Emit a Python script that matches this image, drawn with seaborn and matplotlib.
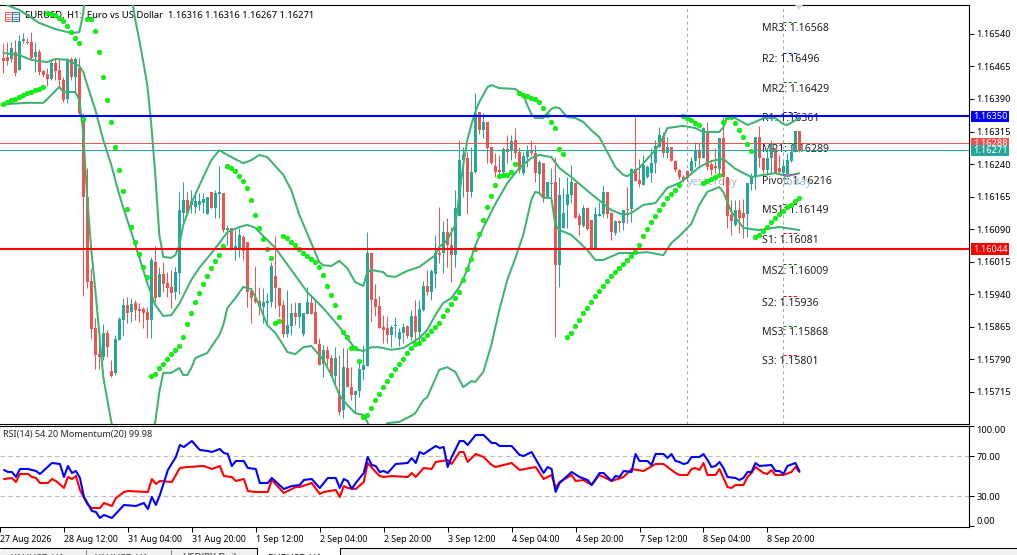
import numpy as np
import matplotlib
matplotlib.use("Agg")
import matplotlib.pyplot as plt
import matplotlib.transforms as mtransforms
from matplotlib.patches import Rectangle
import seaborn as sns

# Prices are stored as points above 1.15000 (1 point = 0.00001)
BASE = 1.15
opens = [1484,1487,1482,1498,1457,1524,1521,1521,1487,1498,
1454,1447,1436,1473,1457,1434,1390,1482,1441,1461,
1353,1164,970,862,802,795,851,763,759,835,
881,915,899,920,906,906,899,881,1014,934,
987,966,957,945,989,1127,1157,1146,1141,1146,
1150,1125,1176,1139,1171,1173,1088,1093,1047,1047,
1072,1060,948,931,924,911,920,922,982,954,
915,848,867,897,888,848,895,920,899,825,
779,812,793,752,708,673,770,726,708,717,
765,775,1035,929,913,865,862,846,867,837,
851,867,842,890,853,904,959,945,987,1035,
1035,1083,1054,1030,1120,1249,1254,1176,1222,1360,
1318,1337,1279,1235,1226,1222,1275,1270,1295,1268,
1219,1256,1270,1265,1217,1242,1164,1195,1199,1007,
1093,1146,1169,1196,1120,1097,1139,1111,1047,1120,
1125,1176,1127,1081,1109,1104,1136,1136,1229,1203,
1192,1210,1219,1242,1279,1305,1265,1279,1247,1226,
1210,1224,1224,1247,1270,1254,1314,1240,1235,1229,
1300,1210,1123,1100,1134,1127,1125,1194,1210,1302,
1254,1226,1254,1277,1231,1219,1217,1247,1268,1316]
closes = [1477,1477,1507,1450,1524,1528,1519,1484,1498,1452,
1445,1436,1473,1454,1434,1388,1482,1441,1482,1358,
1164,968,860,800,795,851,818,752,837,883,
915,897,918,904,901,897,881,1019,931,987,
964,954,943,991,1134,1157,1127,1155,1155,1155,
1160,1164,1139,1173,1176,1088,1093,1047,1051,1077,
1040,945,931,922,911,922,924,1005,954,913,
848,869,897,888,920,897,922,895,825,777,
812,791,752,793,669,772,726,708,717,768,
777,1035,927,911,862,858,846,865,869,853,
865,844,890,853,906,959,945,994,1035,1030,
1083,1054,1030,1139,1249,1263,1176,1222,1358,1318,
1337,1277,1242,1222,1222,1275,1268,1293,1265,1226,
1259,1272,1265,1219,1245,1164,1199,1196,1007,1169,
1127,1171,1199,1116,1100,1139,1090,1047,1125,1125,
1176,1125,1083,1109,1104,1134,1134,1229,1201,1194,
1238,1233,1242,1282,1307,1265,1279,1247,1226,1210,
1203,1208,1247,1270,1254,1323,1233,1226,1231,1300,
1210,1120,1109,1134,1116,1116,1196,1212,1302,1254,
1226,1254,1277,1219,1222,1235,1249,1268,1316,1271]
highs = [1519,1521,1521,1526,1537,1542,1530,1544,1521,1505,
1457,1461,1482,1484,1484,1441,1484,1487,1487,1484,
1358,1231,1000,885,851,871,858,789,846,888,
931,934,931,927,920,911,911,1026,1051,1003,
1014,991,996,1003,1176,1199,1176,1180,1176,1173,
1173,1164,1176,1180,1236,1173,1100,1093,1088,1093,
1077,1060,954,1005,957,954,943,1014,1074,957,
927,950,920,922,920,897,957,938,927,839,
823,821,800,818,800,816,816,772,719,788,
823,1083,1035,964,936,892,890,869,888,862,
874,869,904,927,927,971,996,998,1077,1141,
1109,1116,1095,1180,1295,1279,1268,1279,1404,1360,
1358,1337,1279,1265,1261,1279,1307,1307,1323,1279,
1268,1284,1295,1284,1249,1242,1199,1231,1256,1210,
1185,1210,1238,1196,1127,1146,1141,1111,1141,1153,
1192,1176,1130,1111,1111,1134,1187,1231,1348,1252,
1261,1238,1277,1295,1325,1314,1302,1279,1249,1229,
1215,1226,1256,1291,1291,1325,1337,1245,1277,1300,
1348,1210,1157,1157,1157,1160,1196,1219,1302,1328,
1256,1277,1295,1277,1261,1249,1265,1284,1316,1316]
lows = [1450,1468,1475,1443,1457,1519,1517,1482,1452,1445,
1441,1420,1434,1434,1415,1383,1381,1434,1404,1353,
936,954,837,768,768,789,795,749,754,835,
846,874,876,881,876,862,839,839,922,934,
945,934,908,929,941,1106,1127,1127,1127,1134,
1127,1125,1139,1116,1116,1083,1054,1042,1019,1026,
1019,911,874,920,892,874,876,911,908,888,
842,842,846,869,865,844,895,895,825,777,
749,777,752,731,662,655,726,696,666,703,
742,775,876,890,862,828,828,818,842,821,
828,839,835,830,830,901,938,927,954,1012,
989,1003,968,1003,1120,1164,1125,1164,1219,1309,
1300,1242,1240,1210,1210,1212,1242,1249,1254,1219,
1215,1233,1261,1199,1173,1153,1164,1164,842,957,
1093,1093,1150,1116,1077,1095,1088,1047,1047,1120,
1118,1116,1065,1077,1083,1088,1104,1106,1201,1187,
1192,1208,1199,1219,1279,1256,1254,1247,1222,1206,
1199,1201,1219,1233,1238,1254,1226,1215,1219,1210,
1192,1093,1077,1097,1081,1070,1072,1180,1180,1233,
1219,1215,1219,1219,1219,1215,1215,1245,1268,1267]

sar_pts = [1378,1383,1388,1390,1395,1399,1404,1406,1411,1413,1418,
1588,1586,1583,1577,1570,1558,1544,1530,1519,1344,
1574,1574,1547,1498,1441,1388,1337,1279,1226,1178,1136,1095,1060,1033,1003,980,
752,756,770,779,791,802,812,821,842,871,897,922,943,964,982,1001,1017,1030,1051,
1236,1231,1224,1212,1201,1185,1157,1123,1093,1067,1044,1023,874,878,
1074,1070,1060,1054,1044,1035,1028,1021,1014,1003,984,959,938,915,888,
853,842,816,816,786,
657,662,678,696,710,726,740,754,768,779,791,805,816,825,828,
837,846,855,865,874,890,904,918,931,945,973,998,1021,1044,1079,
1111,1141,1166,1192,1212,1215,1215,1222,1240,
1404,1399,1397,1392,1390,1383,1369,1353,1337,1323,1275,1263,
842,851,867,881,897,908,922,936,948,959,971,982,991,1001,1010,
1019,1028,1037,1054,1074,1090,1106,1120,1134,1148,1162,1171,1180,1192,
1351,1346,1341,1335,1330,1196,1201,1206,1210,1215,
1337,1348,1348,1335,1318,1302,1286,1270,
1072,1077,1086,1095,1106,1116,1125,1132,1141,1146,1155,1162]

# Bollinger bands, read at selected bars: (bar, points)
bb_upper = [(1,1606),(4,1595),(9,1565),(13,1551),(17,1542),(19,1544),(20,1588),(21,1687),(25,1756),(27,1756),
(32,1630),(33,1572),(34,1526),(35,1475),(36,1422),(37,1330),(38,1215),(39,1077),(40,1026),(42,1024),(43,1030),
(44,1053),(45,1100),(47,1150),(50,1210),(52,1249),(54,1272),(56,1261),(60,1242),(62,1249),(64,1261),(66,1256),
(70,1215),(72,1180),(74,1123),(77,1058),(79,1014),(80,1007),(82,1005),(84,1017),(86,1000),(88,968),(90,959),
(91,991),(92,996),(95,991),(96,982),(98,980),(101,994),(104,1003),(108,1030),(109,1049),(111,1065),(113,1100),
(114,1169),(115,1238),(116,1295),(117,1330),(118,1360),(119,1383),(120,1399),(121,1417),(122,1422),(124,1415),
(128,1413),(130,1399),(131,1376),(132,1355),(133,1346),(135,1346),(137,1367),(138,1371),(139,1369),(141,1348),
(143,1346),(145,1337),(147,1318),(149,1302),(151,1268),(153,1233),(155,1215),(156,1212),(159,1231),(160,1242),
(163,1272),(165,1302),(166,1323),(170,1328),(173,1323),(175,1314),(179,1314),(180,1325),(181,1348),(183,1346),
(186,1330),(188,1337),(190,1346),(193,1346),(195,1332),(196,1330),(199,1346)]
bb_middle = [(0,1496),(4,1491),(7,1480),(11,1475),(13,1482),(16,1480),(19,1466),(20,1452),(21,1422),(23,1365),
(25,1295),(27,1238),(29,1169),(31,1111),(33,1054),(36,966),(38,915),(40,890),(42,892),(44,918),(47,973),(49,1001),
(51,1023),(54,1058),(56,1083),(59,1095),(61,1100),(63,1093),(65,1074),(68,1047),(72,996),(76,945),(80,908),
(84,865),(86,839),(88,814),(90,809),(92,818),(94,818),(97,812),(100,816),(104,839),(106,858),(108,892),(110,920),
(112,931),(114,957),(116,996),(118,1053),(120,1093),(123,1148),(126,1196),(129,1231),(132,1254),(134,1261),
(137,1256),(139,1231),(142,1210),(147,1171),(152,1134),(155,1123),(157,1127),(160,1146),(163,1150),(166,1185),
(169,1196),(171,1210),(174,1233),(177,1247),(180,1252),(183,1229),(187,1210),(190,1215),(193,1219),(196,1212),(199,1219)]
bb_lower = [(0,1378),(6,1381),(10,1381),(12,1399),(14,1418),(15,1406),(18,1406),(19,1388),(20,1312),(21,1157),
(22,1042),(23,950),(25,749),(27,646),(28,604),(33,535),(38,646),(39,715),(40,759),(42,759),(44,770),(45,754),
(46,754),(47,770),(48,793),(51,805),(54,846),(55,869),(56,908),(58,931),(60,957),(62,952),(64,915),(66,869),
(68,851),(70,823),(71,807),(73,802),(75,818),(77,821),(80,789),(82,754),(84,708),(86,685),(88,666),(90,662),
(91,646),(93,604),(96,643),(99,646),(102,660),(103,666),(105,696),(106,703),(109,766),(111,772),(113,761),
(115,726),(117,740),(118,738),(120,761),(122,823),(124,904),(126,973),(128,1023),(130,1077),(132,1157),(133,1176),
(134,1173),(135,1162),(137,1162),(138,1100),(139,1088),(142,1077),(146,1042),(148,1019),(150,1019),(154,1035),
(158,1035),(161,1037),(165,1030),(167,1058),(169,1074),(172,1102),(174,1146),(176,1176),(179,1187),(180,1176),
(182,1130),(185,1093),(187,1090),(189,1088),(194,1095),(199,1088)]

rsi_line = [(0,47),(2,48),(3,44),(4,52),(6,52),(7,49),(8,48),(9,43),(11,43),(12,47),(13,45),(15,38),(16,49),(17,47),
(18,50),(19,36),(21,21),(22,18),(24,18),(25,23),(27,20),(28,28),(30,34),(31,35),(36,34),(37,47),(38,42),(39,45),
(42,44),(44,58),(46,59),(50,60),(52,57),(54,60),(55,50),(57,49),(58,45),(60,47),(61,35),(63,34),(66,34),(67,46),
(70,33),(73,39),(74,39),(77,43),(79,32),(80,34),(83,36),(84,29),(85,40),(86,38),(88,37),(90,44),(91,63),(93,54),
(94,50),(95,49),(97,50),(101,49),(102,53),(103,49),(105,58),(107,57),(108,64),(111,66),(112,62),(114,74),(115,74),
(116,64),(118,72),(120,69),(122,61),(123,59),(127,63),(129,56),(133,59),(135,47),(137,51),(138,38),(139,44),(142,51),
(143,45),(145,46),(147,41),(149,51),(152,45),(155,49),(157,57),(160,55),(163,62),(165,62),(168,53),(169,51),(171,51),
(172,57),(173,58),(174,56),(175,63),(176,51),(178,51),(179,57),(180,48),(181,39),(182,38),(183,41),(185,41),(186,49),
(187,53),(188,59),(190,53),(191,52),(192,56),(193,51),(195,51),(197,54),(198,59),(199,54)]
# Momentum drawn on the panel's own scale, as in the terminal overlay
momentum_line = [(0,56),(1,54),(2,54),(3,49),(4,57),(6,57),(8,55),(9,52),(12,63),(14,62),(15,49),(16,60),(17,53),(18,55),
(19,48),(20,29),(22,15),(23,14),(24,8),(25,11),(27,8),(30,21),(33,20),(35,23),(36,17),(37,29),(38,21),(39,31),(41,56),
(43,69),(44,81),(45,79),(47,85),(49,76),(51,75),(52,74),(54,77),(55,73),(56,72),(57,60),(58,65),(60,65),(61,58),(63,57),
(64,43),(66,43),(67,48),(70,37),(72,40),(74,41),(75,46),(77,47),(79,38),(81,48),(83,48),(84,38),(85,47),(86,45),(87,37),
(88,43),(90,53),(91,69),(92,61),(93,60),(94,54),(95,55),(96,53),(98,62),(101,63),(102,68),(103,63),(104,74),(105,72),
(108,80),(109,78),(110,79),(111,59),(112,69),(114,85),(115,85),(116,81),(118,91),(120,91),(122,83),(123,83),(124,80),
(127,80),(129,71),(130,70),(132,74),(135,53),(136,59),(137,57),(138,34),(139,43),(142,54),(144,49),(146,46),(147,41),
(149,53),(150,53),(152,45),(153,50),(154,49),(155,55),(157,54),(158,72),(159,65),(161,65),(162,61),(163,72),(165,72),
(166,68),(167,72),(168,65),(169,64),(170,62),(171,63),(172,69),(174,69),(175,72),(176,66),(177,59),(178,60),(179,64),
(180,58),(181,49),(183,48),(184,46),(185,48),(186,54),(187,54),(188,63),(189,60),(192,61),(193,55),(194,55),(195,52),
(196,60),(198,63),(199,55)]

blue_level = 1350
red_level = 1044
bid_level = 1271
ask_level = 1288
pivot_names = ["MR3","R2","MR2","R1","MR1","Pivot","MS1","S1","MS2","S2","MS3","S3"]
pivot_values = [1568,1496,1429,1361,1289,1216,1149,1081,1009,936,868,801]
price_ticks = [1540,1465,1390,1315,1240,1165,1090,1015,940,865,790,715]
panel_ticks = [100,70,30,0]
date_tick_bars = [-1,15,31,47,63,79,95,111,127,143,159,175,191]
date_labels = ["27 Aug 2026","28 Aug 12:00","31 Aug 04:00","31 Aug 20:00","1 Sep 12:00","2 Sep 04:00",
               "2 Sep 20:00","3 Sep 12:00","4 Sep 04:00","4 Sep 20:00","7 Sep 12:00","8 Sep 04:00","8 Sep 20:00"]
separator_bars = [171,195]
tab_names = ["XAUUSD,H1","XAUUSD,H1","USDJPY,Daily","EURUSD,H1"]

UP = "#26a69a"; DOWN = "#ef5350"; BAND = "#3cb371"
W, H = 1017, 555
def price(v): return BASE + np.asarray(v, dtype=float) / 1e5

sns.set_theme(style="white", rc={"axes.edgecolor":"black","xtick.color":"black","ytick.color":"black",
                                 "axes.linewidth":0.8,"xtick.bottom":True,"ytick.right":True})
plt.rcParams["font.family"] = ["Noto Sans", "DejaVu Sans"]

fig = plt.figure(figsize=(W/100, H/100), dpi=100, facecolor="white")
px = mtransforms.Affine2D().scale(1/W, -1/H).translate(0, 1) + fig.transFigure
def box(l, t, r, b): return fig.add_axes([l/W, 1-b/H, (r-l)/W, (b-t)/H])

XLIM = ((0-3.3)/4, (969-3.3)/4)
ax = box(0, 4.5, 969, 423.5)
ax.set_xlim(*XLIM)
ax.set_ylim(price(1618-2.304*423.5), price(1618-2.304*4.5))
for s in ["left"]: ax.spines[s].set_visible(False)

# title under the marks
ax.text(25, 15.5, "EURUSD, H1:  Euro vs US Dollar  1.16316 1.16316 1.16267 1.16271", transform=px,
        fontsize=6.8, va="center", ha="left", color="black", zorder=1, clip_on=False)
for n, v in zip(pivot_names, pivot_values):
    ax.annotate(f"{n}: {BASE+v/1e5:.5f}", (761.5, price(v)), xycoords=(px, "data"), xytext=(0, -7*0.72),
                textcoords="offset points", fontsize=7.6, va="center", ha="left", color="#222222", zorder=1.5)
ax.text(687, 183, "yesterday", transform=px, fontsize=8, color="#9cc0d4", va="center", ha="left", zorder=1.5)
ax.text(783, 183, "today", transform=px, fontsize=8, color="#9cc0d4", va="center", ha="left", zorder=1.5)

for b in separator_bars:
    ax.axvline(b, color="#a8a8a8", lw=0.75, ls=(0, (3, 3)), zorder=1.2)

bars = np.arange(len(opens))
colors = [UP if c >= o else DOWN for o, c in zip(opens, closes)]
wicks = ax.vlines(bars, price(lows), price(highs), colors=colors, lw=0.72, zorder=2)
wicks.set_snap(True)
body_low = [min(o, c) for o, c in zip(opens, closes)]
body_h = [max(abs(o-c), 2.3)/1e5 for o, c in zip(opens, closes)]
ax.bar(bars, body_h, bottom=price(body_low), width=0.75, color=colors, lw=0, zorder=2.1, antialiased=False)

# one-pixel-thick quote lines
ax.axhspan(price(ask_level-1.15), price(ask_level+1.15), color=DOWN, lw=0, zorder=2.2, antialiased=False)
ax.axhspan(price(bid_level-1.15), price(bid_level+1.15), color=UP, lw=0, zorder=2.2, antialiased=False)
ax.axhline(price(blue_level), color="#0000ff", lw=1.5, zorder=4)
ax.axhline(price(red_level), color="#ff0000", lw=1.5, zorder=4)

for band in (bb_upper, bb_middle, bb_lower):
    b, v = zip(*band)
    sns.lineplot(x=list(b), y=price(v), ax=ax, color=BAND, lw=1.45, estimator=None, sort=False, zorder=3)

sns.scatterplot(x=bars, y=price(sar_pts), ax=ax, color="#00ff00", edgecolor="#22b52c", linewidth=0.3,
                s=12, zorder=3.5, legend=False)

styles = {"R":"#0000ff","M":"#008000","S":"#ff0000","P":"#ff00ff"}
for n, v in zip(pivot_names, pivot_values):
    col = styles["P"] if n == "Pivot" else styles["M"] if n[0] == "M" else styles[n[0]]
    ax.hlines(price(v), 195, 198.7, colors=col, lw=0.72, linestyles=(0, (3, 2.2)), zorder=3.2)

ax.set_xticks([])
ax.set_yticks(price(price_ticks))
ax.set_yticklabels([f"{BASE+v/1e5:.5f}" for v in price_ticks])
ax.yaxis.tick_right()
ax.tick_params(axis="y", labelsize=6.7, length=3.8, width=0.72, pad=1.5, direction="out")
ax.set_xlabel(""); ax.set_ylabel("")

blend = mtransforms.blended_transform_factory(fig.transFigure, ax.transData)
for v, fc, lab in [(blue_level, "#0000ff", "1.16350"), (ask_level, DOWN, "1.16288"),
                   (bid_level, UP, "1.16271"), (red_level, "#ff0000", "1.16044")]:
    ax.add_patch(Rectangle((971/W, price(v-13)), 38/W, 26/1e5, transform=blend, fc=fc, ec="none",
                           clip_on=False, zorder=5))
    ax.text(990/W, price(v), lab, transform=blend, color="white", fontsize=6.7, ha="center", va="center",
            clip_on=False, zorder=6)

# RSI panel
pn = box(0, 425.5, 969, 527)
pn.set_xlim(*XLIM)
pn.set_ylim(-1, 100.5)
pn.spines["left"].set_visible(False)
for lv in (70, 30):
    pn.axhline(lv, color="#bdbdbd", lw=0.8, ls=(0, (4, 3)), zorder=1)
b, v = zip(*rsi_line)
sns.lineplot(x=list(b), y=list(v), ax=pn, color="#ff0000", lw=1.5, estimator=None, sort=False, zorder=2)
b, v = zip(*momentum_line)
sns.lineplot(x=list(b), y=list(v), ax=pn, color="#0000ff", lw=1.5, estimator=None, sort=False, zorder=3)
pn.set_yticks(panel_ticks)
pn.set_yticklabels([f"{t:.2f}" for t in panel_ticks])
pn.yaxis.tick_right()
pn.tick_params(axis="y", labelsize=6.7, length=3.8, width=0.72, pad=1.5)
for lab, t in zip(pn.get_yticklabels(), panel_ticks):
    if t == 100: lab.set_va("top")
    elif t == 0: lab.set_va("bottom")
pn.set_xticks(date_tick_bars)
pn.set_xticklabels(date_labels, ha="left")
pn.tick_params(axis="x", labelsize=6.4, length=3.8, width=0.72, pad=2.2, bottom=True)
pn.set_xlabel(""); pn.set_ylabel("")
pn.text(3, 434.5, "RSI(14) 54.20 Momentum(20) 99.98", transform=px, fontsize=6.5, va="center", ha="left", zorder=5)

# terminal chrome
fig.add_artist(Rectangle((0, 549), W, 6, transform=px, fc="#f0f0f0", ec="none", zorder=1))
fig.add_artist(Rectangle((257, 548), 82.5, 7, transform=px, fc="white", ec="none", zorder=1.1))
for x0, x1, y0, y1, col in [(0, 257, 548, 548, "black"), (340, W, 548, 548, "black"), (256.5, 256.5, 548, 555, "black"),
                            (339.5, 339.5, 548, 555, "black"), (85.5, 85.5, 550, 555, "#888888"),
                            (170.5, 170.5, 550, 555, "#888888")]:
    fig.add_artist(plt.Line2D([x0, x1], [y0, y1], transform=px, color=col, lw=0.75, zorder=1.2))
for x0, name, col in [(11, tab_names[0], "#333333"), (95, tab_names[1], "#333333"), (182, tab_names[2], "#333333"),
                      (268, tab_names[3], "black")]:
    fig.text(x0, 558, name, transform=px, fontsize=7, ha="left", va="center", color=col, zorder=1.3)
fig.add_artist(plt.Polygon([(795, 5), (803, 5), (799, 10)], transform=px, fc="#d8d8d8", ec="none", zorder=1.2))
# chart-window icon
for x0, col in [(4.5, DOWN), (11.5, "#1f6fb5")]:
    fig.add_artist(Rectangle((x0, 11.5), 7, 9, transform=px, fc="none", ec=col, lw=0.7, zorder=3))
    for yy in (14, 16.5, 19):
        fig.add_artist(plt.Line2D([x0+1, x0+6], [yy, yy], transform=px, color=col, lw=0.6, zorder=3))

fig.savefig("out.png", dpi=100)
